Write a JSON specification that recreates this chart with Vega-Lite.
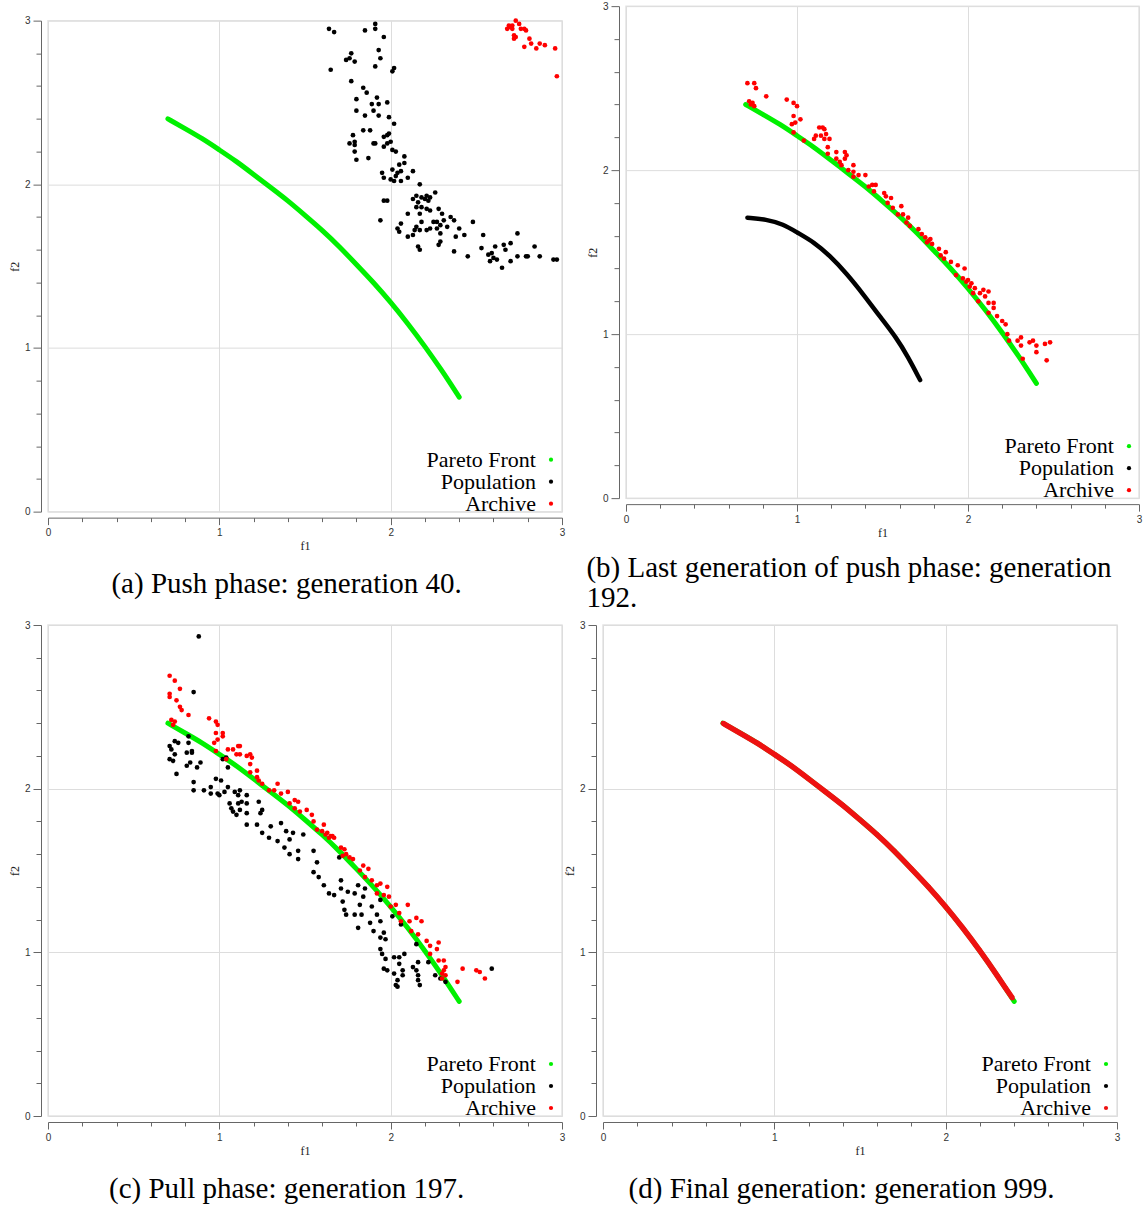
{
  "$schema": "https://vega.github.io/schema/vega-lite/v6.json",
  "padding": {"left": 7, "top": 0, "right": 0, "bottom": 0},
  "background": "white",
  "datasets": {
    "front": [{"f1":0.70,"f2":2.40},{"f1":0.80,"f2":2.34},{"f1":0.90,"f2":2.28},{"f1":1.00,"f2":2.21},{"f1":1.10,"f2":2.14},{"f1":1.20,"f2":2.06},{"f1":1.30,"f2":1.98},{"f1":1.40,"f2":1.90},{"f1":1.50,"f2":1.81},{"f1":1.60,"f2":1.72},{"f1":1.70,"f2":1.62},{"f1":1.80,"f2":1.51},{"f1":1.90,"f2":1.40},{"f1":2.00,"f2":1.28},{"f1":2.10,"f2":1.15},{"f1":2.20,"f2":1.01},{"f1":2.30,"f2":0.86},{"f1":2.35,"f2":0.78},{"f1":2.40,"f2":0.70}],
    "a_pop": [{"f1":1.64,"f2":2.95},{"f1":1.67,"f2":2.93},{"f1":1.85,"f2":2.94},{"f1":1.91,"f2":2.98},{"f1":1.91,"f2":2.95},{"f1":1.96,"f2":2.90},{"f1":1.93,"f2":2.82},{"f1":1.77,"f2":2.80},{"f1":1.74,"f2":2.76},{"f1":1.76,"f2":2.77},{"f1":1.79,"f2":2.75},{"f1":1.94,"f2":2.77},{"f1":1.91,"f2":2.72},{"f1":1.65,"f2":2.70},{"f1":2.02,"f2":2.71},{"f1":2.01,"f2":2.69},{"f1":1.77,"f2":2.63},{"f1":1.84,"f2":2.59},{"f1":1.86,"f2":2.56},{"f1":1.92,"f2":2.53},{"f1":1.80,"f2":2.52},{"f1":1.89,"f2":2.49},{"f1":1.93,"f2":2.49},{"f1":1.98,"f2":2.50},{"f1":1.90,"f2":2.45},{"f1":1.80,"f2":2.45},{"f1":1.85,"f2":2.42},{"f1":1.93,"f2":2.42},{"f1":1.99,"f2":2.41},{"f1":2.02,"f2":2.37},{"f1":1.84,"f2":2.33},{"f1":1.88,"f2":2.33},{"f1":1.78,"f2":2.30},{"f1":1.99,"f2":2.31},{"f1":1.98,"f2":2.30},{"f1":1.96,"f2":2.29},{"f1":2.00,"f2":2.26},{"f1":1.98,"f2":2.25},{"f1":1.96,"f2":2.23},{"f1":1.76,"f2":2.25},{"f1":1.79,"f2":2.26},{"f1":1.79,"f2":2.24},{"f1":1.90,"f2":2.25},{"f1":1.91,"f2":2.25},{"f1":1.79,"f2":2.20},{"f1":1.80,"f2":2.15},{"f1":1.87,"f2":2.16},{"f1":2.01,"f2":2.21},{"f1":2.03,"f2":2.20},{"f1":2.08,"f2":2.17},{"f1":2.05,"f2":2.12},{"f1":2.08,"f2":2.13},{"f1":1.95,"f2":2.07},{"f1":1.96,"f2":2.04},{"f1":2.01,"f2":2.09},{"f1":2.04,"f2":2.07},{"f1":2.06,"f2":2.08},{"f1":2.03,"f2":2.05},{"f1":2.00,"f2":2.03},{"f1":2.02,"f2":2.02},{"f1":2.06,"f2":2.02},{"f1":2.10,"f2":2.04},{"f1":2.13,"f2":2.08},{"f1":2.17,"f2":2.00},{"f1":2.26,"f2":1.95},{"f1":2.15,"f2":1.93},{"f1":2.18,"f2":1.92},{"f1":2.21,"f2":1.93},{"f1":2.23,"f2":1.92},{"f1":2.13,"f2":1.91},{"f1":2.16,"f2":1.89},{"f1":2.20,"f2":1.91},{"f1":2.22,"f2":1.90},{"f1":2.15,"f2":1.86},{"f1":2.18,"f2":1.86},{"f1":2.21,"f2":1.85},{"f1":2.23,"f2":1.84},{"f1":2.17,"f2":1.82},{"f1":2.28,"f2":1.85},{"f1":2.30,"f2":1.82},{"f1":2.35,"f2":1.80},{"f1":2.37,"f2":1.78},{"f1":2.48,"f2":1.77},{"f1":2.10,"f2":1.82},{"f1":2.18,"f2":1.77},{"f1":2.25,"f2":1.77},{"f1":2.27,"f2":1.77},{"f1":2.31,"f2":1.78},{"f1":2.33,"f2":1.74},{"f1":2.29,"f2":1.75},{"f1":2.15,"f2":1.74},{"f1":2.14,"f2":1.72},{"f1":2.17,"f2":1.72},{"f1":2.21,"f2":1.72},{"f1":2.23,"f2":1.73},{"f1":2.27,"f2":1.73},{"f1":2.29,"f2":1.70},{"f1":2.40,"f2":1.73},{"f1":2.06,"f2":1.76},{"f1":2.04,"f2":1.73},{"f1":2.05,"f2":1.71},{"f1":2.10,"f2":1.68},{"f1":2.13,"f2":1.69},{"f1":2.38,"f2":1.68},{"f1":2.43,"f2":1.69},{"f1":2.29,"f2":1.65},{"f1":2.28,"f2":1.63},{"f1":2.54,"f2":1.69},{"f1":2.74,"f2":1.70},{"f1":2.70,"f2":1.64},{"f1":2.66,"f2":1.63},{"f1":2.61,"f2":1.62},{"f1":2.67,"f2":1.60},{"f1":2.53,"f2":1.61},{"f1":2.16,"f2":1.62},{"f1":2.17,"f2":1.60},{"f1":2.37,"f2":1.59},{"f1":2.45,"f2":1.56},{"f1":2.57,"f2":1.57},{"f1":2.59,"f2":1.58},{"f1":2.60,"f2":1.55},{"f1":2.58,"f2":1.53},{"f1":2.62,"f2":1.54},{"f1":2.65,"f2":1.49},{"f1":2.70,"f2":1.53},{"f1":2.74,"f2":1.56},{"f1":2.79,"f2":1.56},{"f1":2.80,"f2":1.56},{"f1":2.84,"f2":1.62},{"f1":2.87,"f2":1.56},{"f1":2.95,"f2":1.54},{"f1":2.97,"f2":1.54},{"f1":1.96,"f2":1.90},{"f1":1.98,"f2":1.90},{"f1":1.94,"f2":1.78}],
    "a_arch": [{"f1":2.68,"f2":2.95},{"f1":2.69,"f2":2.97},{"f1":2.70,"f2":2.96},{"f1":2.71,"f2":2.95},{"f1":2.73,"f2":3.00},{"f1":2.75,"f2":2.98},{"f1":2.72,"f2":2.91},{"f1":2.78,"f2":2.95},{"f1":2.79,"f2":2.94},{"f1":2.72,"f2":2.89},{"f1":2.81,"f2":2.89},{"f1":2.82,"f2":2.86},{"f1":2.78,"f2":2.84},{"f1":2.85,"f2":2.83},{"f1":2.87,"f2":2.86},{"f1":2.90,"f2":2.85},{"f1":2.96,"f2":2.83},{"f1":2.97,"f2":2.66},{"f1":2.71,"f2":2.97},{"f1":2.76,"f2":2.95},{"f1":2.73,"f2":2.90}],
    "b_pop": [{"f1":0.71,"f2":1.71},{"f1":0.82,"f2":1.70},{"f1":0.92,"f2":1.67},{"f1":1.00,"f2":1.62},{"f1":1.10,"f2":1.56},{"f1":1.19,"f2":1.48},{"f1":1.29,"f2":1.37},{"f1":1.39,"f2":1.24},{"f1":1.49,"f2":1.10},{"f1":1.58,"f2":0.98},{"f1":1.65,"f2":0.86},{"f1":1.72,"f2":0.72}],
    "b_arch": [{"f1":0.71,"f2":2.53},{"f1":0.75,"f2":2.53},{"f1":0.76,"f2":2.50},{"f1":0.82,"f2":2.45},{"f1":0.72,"f2":2.42},{"f1":0.74,"f2":2.41},{"f1":0.75,"f2":2.39},{"f1":0.73,"f2":2.40},{"f1":0.94,"f2":2.43},{"f1":0.98,"f2":2.41},{"f1":1.00,"f2":2.39},{"f1":0.98,"f2":2.33},{"f1":1.02,"f2":2.31},{"f1":0.99,"f2":2.29},{"f1":0.97,"f2":2.28},{"f1":0.98,"f2":2.23},{"f1":1.04,"f2":2.18},{"f1":1.13,"f2":2.26},{"f1":1.15,"f2":2.26},{"f1":1.16,"f2":2.25},{"f1":1.11,"f2":2.21},{"f1":1.10,"f2":2.19},{"f1":1.14,"f2":2.21},{"f1":1.16,"f2":2.19},{"f1":1.19,"f2":2.19},{"f1":1.17,"f2":2.22},{"f1":1.18,"f2":2.14},{"f1":1.18,"f2":2.10},{"f1":1.23,"f2":2.11},{"f1":1.23,"f2":2.07},{"f1":1.28,"f2":2.11},{"f1":1.29,"f2":2.09},{"f1":1.28,"f2":2.07},{"f1":1.25,"f2":2.05},{"f1":1.26,"f2":2.03},{"f1":1.30,"f2":2.00},{"f1":1.33,"f2":2.03},{"f1":1.33,"f2":1.99},{"f1":1.33,"f2":1.96},{"f1":1.36,"f2":1.97},{"f1":1.40,"f2":1.97},{"f1":1.42,"f2":1.90},{"f1":1.44,"f2":1.91},{"f1":1.46,"f2":1.91},{"f1":1.45,"f2":1.87},{"f1":1.51,"f2":1.86},{"f1":1.52,"f2":1.84},{"f1":1.55,"f2":1.83},{"f1":1.53,"f2":1.80},{"f1":1.56,"f2":1.77},{"f1":1.61,"f2":1.78},{"f1":1.59,"f2":1.73},{"f1":1.62,"f2":1.73},{"f1":1.65,"f2":1.71},{"f1":1.64,"f2":1.68},{"f1":1.66,"f2":1.66},{"f1":1.71,"f2":1.64},{"f1":1.73,"f2":1.61},{"f1":1.75,"f2":1.59},{"f1":1.77,"f2":1.57},{"f1":1.79,"f2":1.55},{"f1":1.76,"f2":1.56},{"f1":1.78,"f2":1.58},{"f1":1.83,"f2":1.52},{"f1":1.87,"f2":1.50},{"f1":1.84,"f2":1.48},{"f1":1.86,"f2":1.46},{"f1":1.90,"f2":1.44},{"f1":1.94,"f2":1.42},{"f1":1.98,"f2":1.40},{"f1":1.93,"f2":1.36},{"f1":1.97,"f2":1.34},{"f1":1.99,"f2":1.32},{"f1":2.01,"f2":1.29},{"f1":2.04,"f2":1.28},{"f1":2.03,"f2":1.25},{"f1":2.09,"f2":1.27},{"f1":2.12,"f2":1.26},{"f1":2.10,"f2":1.23},{"f1":2.06,"f2":1.20},{"f1":2.12,"f2":1.19},{"f1":2.15,"f2":1.19},{"f1":2.15,"f2":1.16},{"f1":2.12,"f2":1.13},{"f1":2.17,"f2":1.11},{"f1":2.20,"f2":1.08},{"f1":2.22,"f2":1.06},{"f1":2.23,"f2":1.00},{"f1":2.24,"f2":0.96},{"f1":2.29,"f2":0.96},{"f1":2.31,"f2":0.98},{"f1":2.31,"f2":0.93},{"f1":2.36,"f2":0.95},{"f1":2.38,"f2":0.96},{"f1":2.40,"f2":0.93},{"f1":2.40,"f2":0.89},{"f1":2.45,"f2":0.94},{"f1":2.48,"f2":0.95},{"f1":2.46,"f2":0.84},{"f1":2.32,"f2":0.85},{"f1":2.00,"f2":1.33},{"f1":2.02,"f2":1.31},{"f1":2.07,"f2":1.25}],
    "c_pop": [{"f1":0.88,"f2":2.93},{"f1":0.85,"f2":2.59},{"f1":0.82,"f2":2.32},{"f1":0.71,"f2":2.26},{"f1":0.74,"f2":2.29},{"f1":0.76,"f2":2.28},{"f1":0.72,"f2":2.24},{"f1":0.74,"f2":2.21},{"f1":0.71,"f2":2.18},{"f1":0.73,"f2":2.17},{"f1":0.82,"f2":2.28},{"f1":0.81,"f2":2.22},{"f1":0.84,"f2":2.23},{"f1":0.84,"f2":2.22},{"f1":0.83,"f2":2.16},{"f1":0.81,"f2":2.14},{"f1":0.89,"f2":2.16},{"f1":0.87,"f2":2.13},{"f1":0.75,"f2":2.09},{"f1":0.85,"f2":2.04},{"f1":0.85,"f2":1.99},{"f1":0.91,"f2":1.99},{"f1":0.95,"f2":2.01},{"f1":0.98,"f2":2.06},{"f1":1.01,"f2":2.05},{"f1":0.95,"f2":1.97},{"f1":0.99,"f2":1.97},{"f1":1.00,"f2":1.96},{"f1":1.05,"f2":2.01},{"f1":1.03,"f2":1.98},{"f1":1.09,"f2":1.98},{"f1":1.12,"f2":1.99},{"f1":1.11,"f2":1.96},{"f1":1.16,"f2":1.96},{"f1":1.06,"f2":1.91},{"f1":1.07,"f2":1.88},{"f1":1.08,"f2":1.86},{"f1":1.11,"f2":1.91},{"f1":1.13,"f2":1.92},{"f1":1.16,"f2":1.91},{"f1":1.12,"f2":1.87},{"f1":1.16,"f2":1.85},{"f1":1.10,"f2":1.84},{"f1":1.23,"f2":1.92},{"f1":1.25,"f2":1.87},{"f1":1.24,"f2":1.85},{"f1":1.02,"f2":2.18},{"f1":1.05,"f2":2.13},{"f1":1.04,"f2":2.19},{"f1":1.16,"f2":1.78},{"f1":1.22,"f2":1.78},{"f1":1.25,"f2":1.73},{"f1":1.29,"f2":1.70},{"f1":1.34,"f2":1.68},{"f1":1.30,"f2":1.77},{"f1":1.36,"f2":1.79},{"f1":1.39,"f2":1.74},{"f1":1.43,"f2":1.73},{"f1":1.41,"f2":1.69},{"f1":1.49,"f2":1.72},{"f1":1.38,"f2":1.64},{"f1":1.41,"f2":1.60},{"f1":1.46,"f2":1.62},{"f1":1.46,"f2":1.57},{"f1":1.55,"f2":1.62},{"f1":1.57,"f2":1.55},{"f1":1.55,"f2":1.49},{"f1":1.58,"f2":1.46},{"f1":1.61,"f2":1.41},{"f1":1.64,"f2":1.36},{"f1":1.70,"f2":1.58},{"f1":1.71,"f2":1.44},{"f1":1.71,"f2":1.39},{"f1":1.67,"f2":1.35},{"f1":1.75,"f2":1.37},{"f1":1.79,"f2":1.36},{"f1":1.81,"f2":1.41},{"f1":1.85,"f2":1.39},{"f1":1.84,"f2":1.34},{"f1":1.72,"f2":1.31},{"f1":1.73,"f2":1.26},{"f1":1.74,"f2":1.23},{"f1":1.79,"f2":1.23},{"f1":1.82,"f2":1.29},{"f1":1.83,"f2":1.23},{"f1":1.81,"f2":1.15},{"f1":1.89,"f2":1.28},{"f1":1.92,"f2":1.23},{"f1":1.94,"f2":1.32},{"f1":1.88,"f2":1.18},{"f1":1.94,"f2":1.19},{"f1":1.90,"f2":1.13},{"f1":1.96,"f2":1.12},{"f1":1.94,"f2":1.09},{"f1":1.97,"f2":1.08},{"f1":2.01,"f2":1.22},{"f1":2.06,"f2":1.17},{"f1":1.94,"f2":1.02},{"f1":1.95,"f2":0.99},{"f1":2.02,"f2":0.97},{"f1":1.97,"f2":0.96},{"f1":2.05,"f2":0.97},{"f1":2.08,"f2":0.99},{"f1":1.96,"f2":0.90},{"f1":1.98,"f2":0.89},{"f1":2.02,"f2":0.87},{"f1":2.05,"f2":0.93},{"f1":2.07,"f2":0.89},{"f1":2.07,"f2":0.86},{"f1":2.04,"f2":0.83},{"f1":2.03,"f2":0.80},{"f1":2.04,"f2":0.79},{"f1":2.13,"f2":0.91},{"f1":2.15,"f2":0.89},{"f1":2.16,"f2":0.94},{"f1":2.15,"f2":1.05},{"f1":2.16,"f2":0.86},{"f1":2.16,"f2":0.83},{"f1":2.17,"f2":0.80},{"f1":2.22,"f2":0.94},{"f1":2.26,"f2":0.86},{"f1":2.29,"f2":0.84},{"f1":2.32,"f2":0.82},{"f1":2.59,"f2":0.90}],
    "c_arch": [{"f1":0.71,"f2":2.69},{"f1":0.74,"f2":2.66},{"f1":0.77,"f2":2.61},{"f1":0.71,"f2":2.58},{"f1":0.71,"f2":2.56},{"f1":0.75,"f2":2.54},{"f1":0.77,"f2":2.50},{"f1":0.78,"f2":2.48},{"f1":0.82,"f2":2.45},{"f1":0.72,"f2":2.42},{"f1":0.74,"f2":2.41},{"f1":0.73,"f2":2.39},{"f1":0.94,"f2":2.43},{"f1":0.98,"f2":2.41},{"f1":0.99,"f2":2.39},{"f1":0.98,"f2":2.34},{"f1":1.02,"f2":2.34},{"f1":1.02,"f2":2.32},{"f1":0.99,"f2":2.30},{"f1":0.97,"f2":2.28},{"f1":0.98,"f2":2.23},{"f1":1.05,"f2":2.24},{"f1":1.08,"f2":2.24},{"f1":1.11,"f2":2.26},{"f1":1.12,"f2":2.26},{"f1":1.10,"f2":2.21},{"f1":1.12,"f2":2.21},{"f1":1.16,"f2":2.20},{"f1":1.18,"f2":2.21},{"f1":1.19,"f2":2.19},{"f1":1.18,"f2":2.15},{"f1":1.22,"f2":2.11},{"f1":1.18,"f2":2.10},{"f1":1.22,"f2":2.07},{"f1":1.23,"f2":2.05},{"f1":1.25,"f2":2.03},{"f1":1.29,"f2":1.99},{"f1":1.34,"f2":2.03},{"f1":1.32,"f2":1.99},{"f1":1.36,"f2":1.97},{"f1":1.40,"f2":1.98},{"f1":1.44,"f2":1.93},{"f1":1.46,"f2":1.92},{"f1":1.41,"f2":1.91},{"f1":1.44,"f2":1.88},{"f1":1.47,"f2":1.86},{"f1":1.51,"f2":1.87},{"f1":1.54,"f2":1.84},{"f1":1.04,"f2":2.18},{"f1":1.55,"f2":1.80},{"f1":1.61,"f2":1.78},{"f1":1.57,"f2":1.75},{"f1":1.63,"f2":1.73},{"f1":1.65,"f2":1.71},{"f1":1.60,"f2":1.74},{"f1":1.62,"f2":1.72},{"f1":1.64,"f2":1.70},{"f1":1.66,"f2":1.71},{"f1":1.67,"f2":1.70},{"f1":1.71,"f2":1.64},{"f1":1.73,"f2":1.63},{"f1":1.74,"f2":1.60},{"f1":1.76,"f2":1.58},{"f1":1.78,"f2":1.57},{"f1":1.72,"f2":1.59},{"f1":1.84,"f2":1.53},{"f1":1.87,"f2":1.51},{"f1":1.82,"f2":1.50},{"f1":1.85,"f2":1.46},{"f1":1.89,"f2":1.44},{"f1":1.92,"f2":1.41},{"f1":1.94,"f2":1.42},{"f1":1.98,"f2":1.40},{"f1":1.92,"f2":1.36},{"f1":1.96,"f2":1.35},{"f1":1.99,"f2":1.34},{"f1":2.03,"f2":1.29},{"f1":2.00,"f2":1.28},{"f1":2.10,"f2":1.29},{"f1":2.05,"f2":1.24},{"f1":2.06,"f2":1.19},{"f1":2.11,"f2":1.19},{"f1":2.15,"f2":1.21},{"f1":2.18,"f2":1.19},{"f1":2.12,"f2":1.13},{"f1":2.16,"f2":1.11},{"f1":2.21,"f2":1.07},{"f1":2.28,"f2":1.06},{"f1":2.23,"f2":1.04},{"f1":2.27,"f2":1.02},{"f1":2.23,"f2":0.99},{"f1":2.28,"f2":0.95},{"f1":2.31,"f2":0.95},{"f1":2.32,"f2":0.91},{"f1":2.30,"f2":0.87},{"f1":2.32,"f2":0.86},{"f1":2.30,"f2":0.84},{"f1":2.39,"f2":0.82},{"f1":2.42,"f2":0.90},{"f1":2.50,"f2":0.89},{"f1":2.52,"f2":0.88},{"f1":2.55,"f2":0.84},{"f1":2.31,"f2":0.89}],
    "d_arch": [{"f1":0.70,"f2":2.40},{"f1":0.80,"f2":2.34},{"f1":0.90,"f2":2.28},{"f1":1.00,"f2":2.21},{"f1":1.10,"f2":2.14},{"f1":1.20,"f2":2.06},{"f1":1.30,"f2":1.98},{"f1":1.40,"f2":1.90},{"f1":1.50,"f2":1.81},{"f1":1.60,"f2":1.72},{"f1":1.70,"f2":1.62},{"f1":1.80,"f2":1.51},{"f1":1.90,"f2":1.40},{"f1":2.00,"f2":1.28},{"f1":2.10,"f2":1.15},{"f1":2.20,"f2":1.01},{"f1":2.30,"f2":0.86},{"f1":2.35,"f2":0.78},{"f1":2.39,"f2":0.72}]
  },
  "vconcat": [
    {
      "hconcat": [
        {
          "width": 514, "height": 491,
          "title": {"text": "(a) Push phase: generation 40.", "anchor": "middle", "frame": "bounds", "offset": 18},
          "encoding": {
            "x": {"field": "f1", "type": "quantitative", "scale": {"domain": [0, 3]}, "axis": {"title": "f1", "values": [0,0.2,0.4,0.6,0.8,1,1.2,1.4,1.6,1.8,2,2.2,2.4,2.6,2.8,3], "labelExpr": "abs(datum.value-round(datum.value))<0.01 ? format(datum.value,'d') : ''", "tickSize": {"condition": {"test": "abs(datum.value-round(datum.value))<0.01", "value": 7}, "value": 4}, "gridOpacity": {"condition": {"test": "abs(datum.value-round(datum.value))<0.01", "value": 1}, "value": 0}, "offset": 6}},
            "y": {"field": "f2", "type": "quantitative", "scale": {"domain": [0, 3]}, "axis": {"title": "f2", "values": [0,0.2,0.4,0.6,0.8,1,1.2,1.4,1.6,1.8,2,2.2,2.4,2.6,2.8,3], "labelExpr": "abs(datum.value-round(datum.value))<0.01 ? format(datum.value,'d') : ''", "tickSize": {"condition": {"test": "abs(datum.value-round(datum.value))<0.01", "value": 8}, "value": 5}, "gridOpacity": {"condition": {"test": "abs(datum.value-round(datum.value))<0.01", "value": 1}, "value": 0}, "offset": 7}}
          },
          "layer": [
            {"data": {"name": "front"}, "mark": {"type": "line", "color": "#00f000", "strokeWidth": 5, "strokeCap": "round", "interpolate": "basis"}, "encoding": {}},
            {"data": {"name": "a_pop"}, "mark": {"type": "circle", "size": 22, "opacity": 1}, "encoding": {"color": {"datum": "Population", "scale": {"domain": ["Pareto Front", "Population", "Archive"], "range": ["#00f000", "#000000", "#ff0000"]}, "legend": {"orient": "none", "legendX": 492, "legendY": 428}}}},
            {"data": {"name": "a_arch"}, "mark": {"type": "circle", "size": 22, "opacity": 1}, "encoding": {"color": {"datum": "Archive"}}}
          ]
        },
        {
          "width": 513, "height": 492,
          "title": {"text": ["(b) Last generation of push phase: generation", "192."], "anchor": "start", "frame": "bounds", "offset": 16, "lineHeight": 30},
          "encoding": {
            "x": {"field": "f1", "type": "quantitative", "scale": {"domain": [0, 3]}, "axis": {"title": "f1", "values": [0,0.2,0.4,0.6,0.8,1,1.2,1.4,1.6,1.8,2,2.2,2.4,2.6,2.8,3], "labelExpr": "abs(datum.value-round(datum.value))<0.01 ? format(datum.value,'d') : ''", "tickSize": {"condition": {"test": "abs(datum.value-round(datum.value))<0.01", "value": 7}, "value": 4}, "gridOpacity": {"condition": {"test": "abs(datum.value-round(datum.value))<0.01", "value": 1}, "value": 0}, "offset": 6}},
            "y": {"field": "f2", "type": "quantitative", "scale": {"domain": [0, 3]}, "axis": {"title": "f2", "values": [0,0.2,0.4,0.6,0.8,1,1.2,1.4,1.6,1.8,2,2.2,2.4,2.6,2.8,3], "labelExpr": "abs(datum.value-round(datum.value))<0.01 ? format(datum.value,'d') : ''", "tickSize": {"condition": {"test": "abs(datum.value-round(datum.value))<0.01", "value": 8}, "value": 5}, "gridOpacity": {"condition": {"test": "abs(datum.value-round(datum.value))<0.01", "value": 1}, "value": 0}, "offset": 7}}
          },
          "layer": [
            {"data": {"name": "front"}, "mark": {"type": "line", "color": "#00f000", "strokeWidth": 5, "strokeCap": "round", "interpolate": "basis"}, "encoding": {}},
            {"data": {"name": "b_pop"}, "mark": {"type": "line", "color": "#000000", "strokeWidth": 4.5, "strokeCap": "round", "interpolate": "basis"}, "encoding": {}},
            {"data": {"name": "b_arch"}, "mark": {"type": "circle", "size": 22, "opacity": 1}, "encoding": {"color": {"datum": "Archive", "scale": {"domain": ["Pareto Front", "Population", "Archive"], "range": ["#00f000", "#000000", "#ff0000"]}, "legend": {"orient": "none", "legendX": 492, "legendY": 429}}}}
          ]
        }
      ],
      "spacing": 19,
      "center": true,
      "resolve": {"scale": {"x": "independent", "y": "independent", "color": "independent"}, "legend": {"color": "independent"}}
    },
    {
      "hconcat": [
        {
          "width": 514, "height": 491,
          "title": {"text": "(c) Pull phase: generation 197.", "anchor": "middle", "frame": "bounds", "offset": 19},
          "encoding": {
            "x": {"field": "f1", "type": "quantitative", "scale": {"domain": [0, 3]}, "axis": {"title": "f1", "values": [0,0.2,0.4,0.6,0.8,1,1.2,1.4,1.6,1.8,2,2.2,2.4,2.6,2.8,3], "labelExpr": "abs(datum.value-round(datum.value))<0.01 ? format(datum.value,'d') : ''", "tickSize": {"condition": {"test": "abs(datum.value-round(datum.value))<0.01", "value": 7}, "value": 4}, "gridOpacity": {"condition": {"test": "abs(datum.value-round(datum.value))<0.01", "value": 1}, "value": 0}, "offset": 6}},
            "y": {"field": "f2", "type": "quantitative", "scale": {"domain": [0, 3]}, "axis": {"title": "f2", "values": [0,0.2,0.4,0.6,0.8,1,1.2,1.4,1.6,1.8,2,2.2,2.4,2.6,2.8,3], "labelExpr": "abs(datum.value-round(datum.value))<0.01 ? format(datum.value,'d') : ''", "tickSize": {"condition": {"test": "abs(datum.value-round(datum.value))<0.01", "value": 8}, "value": 5}, "gridOpacity": {"condition": {"test": "abs(datum.value-round(datum.value))<0.01", "value": 1}, "value": 0}, "offset": 7}}
          },
          "layer": [
            {"data": {"name": "front"}, "mark": {"type": "line", "color": "#00f000", "strokeWidth": 5, "strokeCap": "round", "interpolate": "basis"}, "encoding": {}},
            {"data": {"name": "c_pop"}, "mark": {"type": "circle", "size": 22, "opacity": 1}, "encoding": {"color": {"datum": "Population", "scale": {"domain": ["Pareto Front", "Population", "Archive"], "range": ["#00f000", "#000000", "#ff0000"]}, "legend": {"orient": "none", "legendX": 492, "legendY": 428}}}},
            {"data": {"name": "c_arch"}, "mark": {"type": "circle", "size": 22, "opacity": 1}, "encoding": {"color": {"datum": "Archive"}}}
          ]
        },
        {
          "width": 514, "height": 491,
          "title": {"text": "(d) Final generation: generation 999.", "anchor": "middle", "frame": "bounds", "offset": 19},
          "encoding": {
            "x": {"field": "f1", "type": "quantitative", "scale": {"domain": [0, 3]}, "axis": {"title": "f1", "values": [0,0.2,0.4,0.6,0.8,1,1.2,1.4,1.6,1.8,2,2.2,2.4,2.6,2.8,3], "labelExpr": "abs(datum.value-round(datum.value))<0.01 ? format(datum.value,'d') : ''", "tickSize": {"condition": {"test": "abs(datum.value-round(datum.value))<0.01", "value": 7}, "value": 4}, "gridOpacity": {"condition": {"test": "abs(datum.value-round(datum.value))<0.01", "value": 1}, "value": 0}, "offset": 6}},
            "y": {"field": "f2", "type": "quantitative", "scale": {"domain": [0, 3]}, "axis": {"title": "f2", "values": [0,0.2,0.4,0.6,0.8,1,1.2,1.4,1.6,1.8,2,2.2,2.4,2.6,2.8,3], "labelExpr": "abs(datum.value-round(datum.value))<0.01 ? format(datum.value,'d') : ''", "tickSize": {"condition": {"test": "abs(datum.value-round(datum.value))<0.01", "value": 8}, "value": 5}, "gridOpacity": {"condition": {"test": "abs(datum.value-round(datum.value))<0.01", "value": 1}, "value": 0}, "offset": 7}}
          },
          "layer": [
            {"data": {"name": "front"}, "mark": {"type": "line", "color": "#00f000", "strokeWidth": 5, "strokeCap": "round", "interpolate": "basis"}, "encoding": {}},
            {"data": {"name": "d_arch"}, "mark": {"type": "line", "color": "#ee1111", "strokeWidth": 5.5, "strokeCap": "butt", "interpolate": "basis"}, "encoding": {}},
            {"data": {"name": "d_arch"}, "mark": {"type": "circle", "size": 22, "opacity": 1}, "encoding": {"color": {"datum": "Archive", "scale": {"domain": ["Pareto Front", "Population", "Archive"], "range": ["#00f000", "#000000", "#ee1111"]}, "legend": {"orient": "none", "legendX": 492, "legendY": 428}}}}
          ]
        }
      ],
      "spacing": -4,
      "resolve": {"scale": {"x": "independent", "y": "independent", "color": "independent"}, "legend": {"color": "independent"}}
    }
  ],
  "spacing": 5,
  "resolve": {"scale": {"x": "independent", "y": "independent", "color": "independent"}, "legend": {"color": "independent"}},
  "config": {
    "view": {"stroke": "#e4e4e4", "strokeWidth": 1.5},
    "axis": {"labelFont": "Liberation Sans", "labelFontSize": 10, "labelColor": "#333333", "labelFlush": false, "labelOverlap": false, "labelPadding": 3, "titleFont": "Liberation Serif", "titleFontSize": 12, "titleFontWeight": "normal", "titleColor": "#222222", "titlePadding": 3, "domainColor": "#666666", "tickColor": "#666666", "gridColor": "#dddddd"},
    "legend": {"title": null, "labelFont": "Liberation Serif", "labelFontSize": 22, "labelColor": "#000000", "labelAlign": "right", "labelOffset": -26, "labelLimit": 400, "symbolSize": 18, "symbolType": "circle", "rowPadding": 0, "padding": 0},
    "title": {"font": "Liberation Serif", "fontSize": 29, "fontWeight": "normal", "color": "#000000", "orient": "bottom"}
  }
}
